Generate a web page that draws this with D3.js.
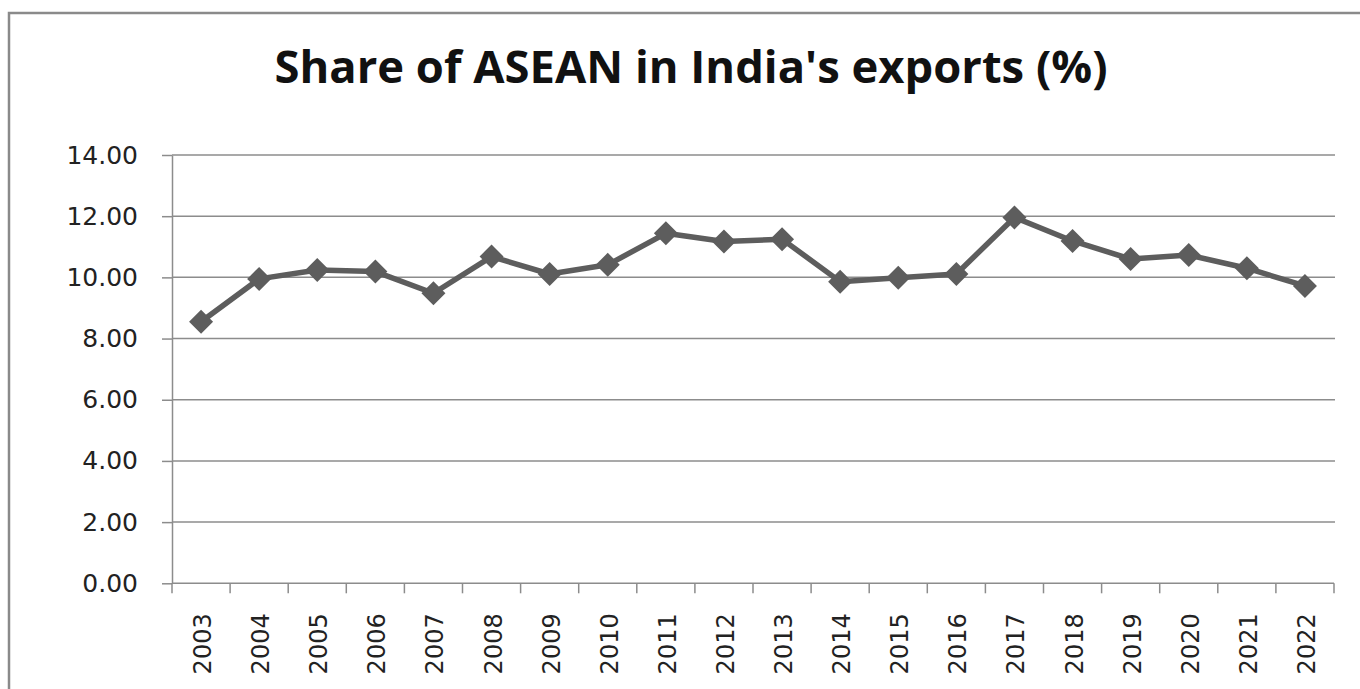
<!DOCTYPE html>
<html><head><meta charset="utf-8">
<script src="https://cdn.jsdelivr.net/npm/d3@7"></script>
<style>body{margin:0;background:#fff;}svg{display:block;}</style>
</head><body>
<svg id="c" width="1360" height="689"></svg>
<script>
const years = ["2003","2004","2005","2006","2007","2008","2009","2010","2011","2012","2013","2014","2015","2016","2017","2018","2019","2020","2021","2022"];
const shares = [8.55,9.95,10.24,10.19,9.48,10.68,10.11,10.41,11.44,11.17,11.25,9.86,9.99,10.11,11.96,11.19,10.60,10.73,10.30,9.72];
const yTicks = [0,2,4,6,8,10,12,14];
const title = "Share of ASEAN in India's exports (%)";

const svg = d3.select("#c");
// outer frame
svg.append("rect").attr("x",9).attr("y",13).attr("width",1400).attr("height",720)
  .attr("fill","none").attr("stroke","#8a8a8a").attr("stroke-width",2.5);

const L=172, R=1334, T=155, B=583.3;
const x = d3.scaleBand().domain(years).range([L,R]).paddingInner(0).paddingOuter(0);
const y = d3.scaleLinear().domain([0,14]).range([B,T]);

svg.append("text").attr("x",691).attr("y",83).attr("text-anchor","middle")
  .attr("font-family","Open Sans").attr("font-weight","bold").attr("font-size",45)
  .attr("fill","#111").attr("textLength",833).attr("lengthAdjust","spacingAndGlyphs").text(title);

// grid
const gy = svg.append("g").attr("transform",`translate(${L},0)`)
  .call(d3.axisLeft(y).tickValues(yTicks).tickSize(10).tickSizeOuter(0).tickFormat(d=>d3.format(".2f")(d)).tickPadding(24));
gy.select(".domain").attr("stroke","#8c8c8c").attr("stroke-width",1.5);
gy.selectAll(".tick line").attr("stroke","#8c8c8c").attr("stroke-width",1.5);
gy.selectAll(".tick text").attr("font-family","DejaVu Sans").attr("font-size",25).attr("fill","#222");
svg.append("g").selectAll("line").data(yTicks.filter(d=>d>0)).join("line")
  .attr("x1",L).attr("x2",R+1).attr("y1",d=>y(d)).attr("y2",d=>y(d))
  .attr("stroke","#8c8c8c").attr("stroke-width",1.5);

// x axis
const gx = svg.append("g").attr("transform",`translate(0,${B})`);
gx.append("line").attr("x1",L).attr("x2",R).attr("stroke","#8c8c8c").attr("stroke-width",1.5);
const edges = d3.range(years.length+1).map(i=>L+i*x.step());
gx.selectAll("line.t").data(edges).join("line").attr("class","t")
  .attr("x1",d=>d).attr("x2",d=>d).attr("y1",0).attr("y2",10).attr("stroke","#8c8c8c").attr("stroke-width",1.5);
gx.selectAll("text").data(years).join("text")
  .attr("transform",d=>`translate(${x(d)+x.bandwidth()/2+10},${30}) rotate(-90)`)
  .attr("text-anchor","end").attr("font-family","DejaVu Sans").attr("font-size",24).attr("fill","#222").text(d=>d);

// line
const cx = d=>x(d)+x.bandwidth()/2;
svg.append("path").datum(years.map((d,i)=>[cx(d),y(shares[i])]))
  .attr("d",d3.line()).attr("fill","none").attr("stroke","#5d5d5d").attr("stroke-width",5.5).attr("stroke-linejoin","round");
svg.append("g").selectAll("path").data(years).join("path")
  .attr("transform",(d,i)=>`translate(${cx(d)},${y(shares[i])})`)
  .attr("d","M0,-12L12,0L0,12L-12,0Z").attr("fill","#5d5d5d");
</script>
</body></html>
